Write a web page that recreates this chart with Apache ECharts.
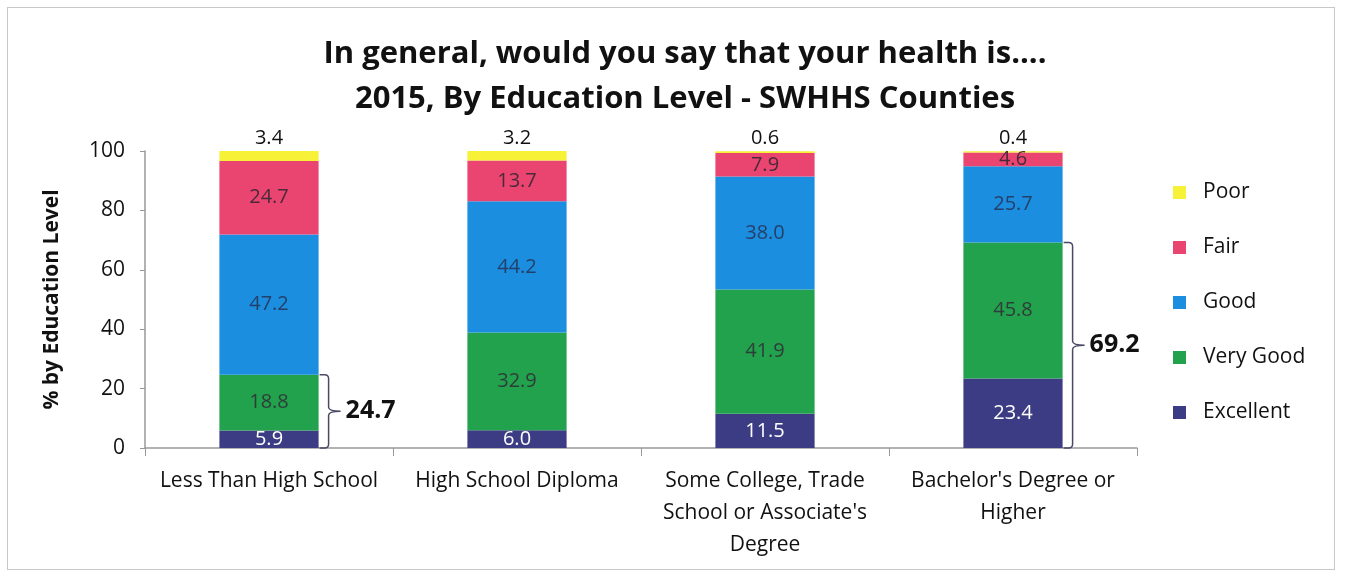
<!DOCTYPE html>
<html>
<head>
<meta charset="utf-8">
<script src="https://cdn.jsdelivr.net/npm/echarts@6/dist/echarts.min.js"></script>
<style>
  html, body { margin: 0; padding: 0; background: #fff; }
  #frame { position: absolute; left: 7px; top: 7px; width: 1328px; height: 563px; border: 1.5px solid #c8c8c8; box-sizing: border-box; }
  #chart { width: 1345px; height: 578px; }
</style>
</head>
<body>
<div id="frame"></div>
<div id="chart"></div>
<script>
const categories = [
  'Less Than High School',
  'High School Diploma',
  'Some College, Trade\nSchool or Associate\'s\nDegree',
  'Bachelor\'s Degree or\nHigher'
];
const excellent = [5.9, 6.0, 11.5, 23.4];
const veryGood  = [18.8, 32.9, 41.9, 45.8];
const good      = [47.2, 44.2, 38.0, 25.7];
const fair      = [24.7, 13.7, 7.9, 4.6];
const poor      = [3.4, 3.2, 0.6, 0.4];
// Excellent + Very Good totals, bracketed beside the first and last bars
const bracketTotals = [24.7, null, null, 69.2];
const yTicks = [0, 20, 40, 60, 80, 100];

const FONT = '"Open Sans", "Liberation Sans", sans-serif';
const colors = {
  'Excellent': '#3c3c85',
  'Very Good': '#22a24c',
  'Good': '#1b8ee0',
  'Fair': '#ea4570',
  'Poor': '#f7f237'
};

function barSeries(name, data, labelColor, pos) {
  return {
    name: name,
    type: 'bar',
    stack: 'total',
    barWidth: '40%',
    data: data,
    itemStyle: { color: colors[name] },
    label: {
      show: true,
      position: pos || 'inside',
      distance: 3,
      color: labelColor,
      fontFamily: FONT,
      fontSize: 20,
      formatter: p => p.value.toFixed(1)
    },
    emphasis: { disabled: true }
  };
}

const bracketData = bracketTotals
  .map((v, i) => v == null ? null : [i, v])
  .filter(d => d);

const chart = echarts.init(document.getElementById('chart'), null, { renderer: 'canvas' });
chart.setOption({
  animation: false,
  title: {
    text: 'In general, would you say that your health is....\n2015, By Education Level - SWHHS Counties',
    left: 680,
    textAlign: 'center',
    top: 27,
    textStyle: { fontFamily: FONT, fontWeight: 'bold', fontSize: 31, lineHeight: 45, color: '#111' }
  },
  legend: {
    orient: 'vertical',
    left: 1168,
    top: 177,
    itemWidth: 13,
    itemHeight: 13,
    itemGap: 34,
    icon: 'rect',
    data: ['Poor', 'Fair', 'Good', 'Very Good', 'Excellent'],
    textStyle: { fontFamily: FONT, fontSize: 21, color: '#111', padding: [0, 0, 0, 12] }
  },
  grid: { left: 145, right: 208, top: 151, bottom: 130 },
  xAxis: {
    type: 'category',
    data: categories,
    axisLine: { lineStyle: { color: '#999', width: 1.5 } },
    axisTick: { show: true, length: 8, lineStyle: { color: '#999' } },
    axisLabel: { fontFamily: FONT, fontSize: 21, color: '#111', lineHeight: 32, margin: 17, interval: 0 }
  },
  yAxis: {
    type: 'value',
    min: yTicks[0],
    max: yTicks[yTicks.length - 1],
    interval: 20,
    name: '% by Education Level',
    nameLocation: 'middle',
    nameGap: 82,
    nameTextStyle: { fontFamily: FONT, fontWeight: 'bold', fontSize: 21, color: '#111' },
    axisLine: { show: true, lineStyle: { color: '#999', width: 1.5 } },
    axisTick: { show: true, length: 5, lineStyle: { color: '#999' } },
    splitLine: { show: false },
    axisLabel: { fontFamily: FONT, fontSize: 21, color: '#111', margin: 20 }
  },
  series: [
    barSeries('Excellent', excellent, '#fff'),
    barSeries('Very Good', veryGood, '#2e3d3a'),
    barSeries('Good', good, '#24406a'),
    barSeries('Fair', fair, '#4a2a3a'),
    barSeries('Poor', poor, '#111', 'top'),
    {
      type: 'custom',
      name: 'bracket',
      data: bracketData,
      silent: true,
      z: 5,
      renderItem: function (params, api) {
        const cat = api.value(0);
        const val = api.value(1);
        const bottom = api.coord([cat, 0]);
        const top = api.coord([cat, val]);
        const band = api.size([1, 0])[0];
        const x0 = bottom[0] + band * 0.2 + 1;
        const x1 = x0 + 9;
        const midY = (bottom[1] + top[1]) / 2;
        const r = 4;
        return {
          type: 'group',
          children: [
            {
              type: 'path',
              shape: {
                pathData:
                  'M' + x0 + ' ' + top[1] +
                  ' L' + (x1 - r) + ' ' + top[1] +
                  ' Q' + x1 + ' ' + top[1] + ' ' + x1 + ' ' + (top[1] + r) +
                  ' L' + x1 + ' ' + (midY - r) +
                  ' Q' + x1 + ' ' + midY + ' ' + (x1 + 12) + ' ' + midY +
                  ' M' + x1 + ' ' + (midY + r) +
                  ' Q' + x1 + ' ' + midY + ' ' + (x1 + 12) + ' ' + midY +
                  ' M' + x1 + ' ' + (midY + r) +
                  ' L' + x1 + ' ' + (bottom[1] - r) +
                  ' Q' + x1 + ' ' + bottom[1] + ' ' + (x1 - r) + ' ' + bottom[1] +
                  ' L' + x0 + ' ' + bottom[1]
              },
              style: { fill: 'none', stroke: '#4a4a66', lineWidth: 1.5 }
            },
            {
              type: 'text',
              x: x1 + 17,
              y: midY,
              style: {
                text: val.toFixed(1),
                fontFamily: FONT,
                fontWeight: 'bold',
                fontSize: 25,
                fill: '#111',
                verticalAlign: 'middle',
                align: 'left'
              }
            }
          ]
        };
      }
    }
  ]
});
</script>
</body>
</html>
